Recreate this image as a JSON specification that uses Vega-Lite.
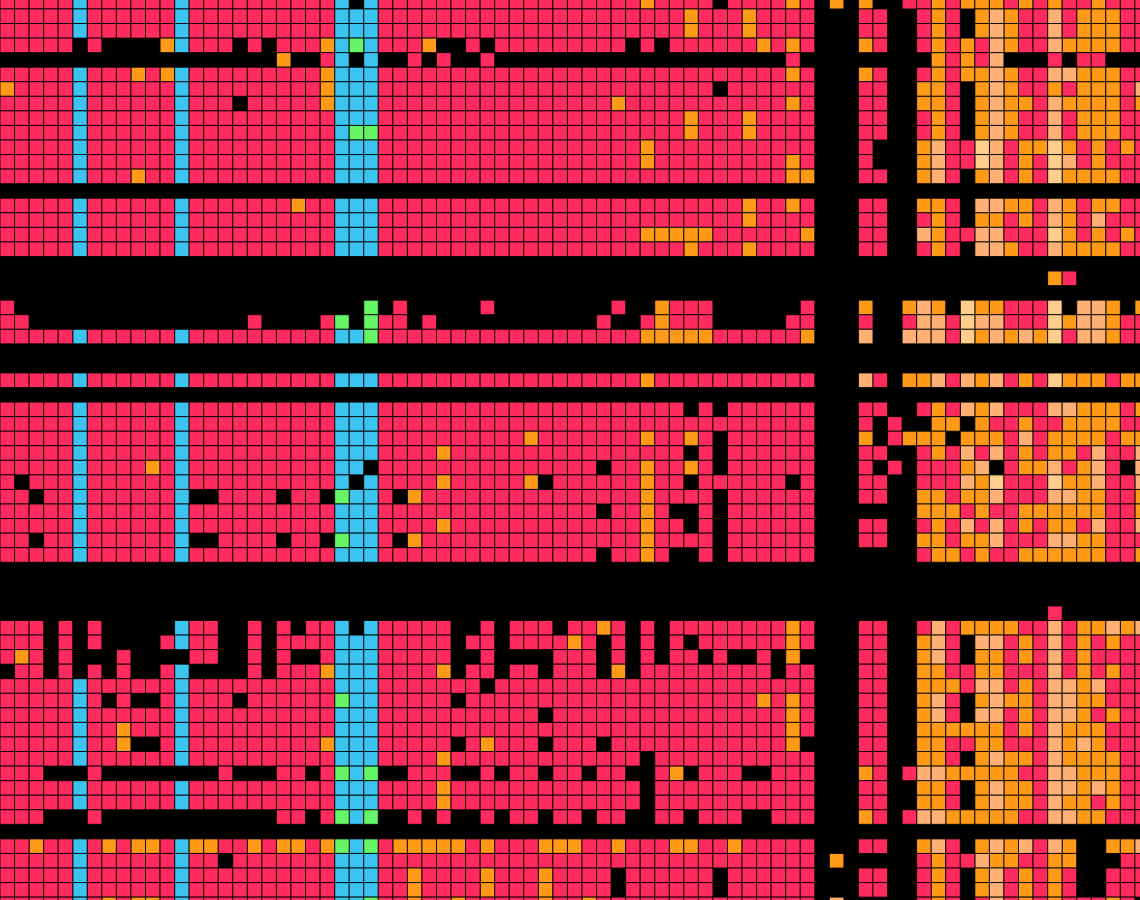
{"$schema":"https://vega.github.io/schema/vega-lite/v6.json","width":1140,"height":900,"padding":0,"autosize":"none","background":"#000000","config":{"view":{"stroke":null}},
"data":{"values":[
{"row":0,"k":"b","col":[5,12,23,25]},{"row":0,"k":"o","col":[44,54,57,59,64,66,67,68,70,72,75]},{"row":0,"k":"r","col":[0,1,2,3,4,6,7,8,9,10,11,13,14,15,16,17,18,19,20,21,22,26,27,28,29,30,31,32,33,34,35,36,37,38,39,40,41,42,43,45,46,47,48,50,51,52,53,55,62,63,65,69,71,73,74,76,77,78]},
{"row":1,"k":"b","col":[5,12,23,24,25]},{"row":1,"k":"o","col":[47,51,64,67,69,74,75,76]},{"row":1,"k":"l","col":[68,72]},{"row":1,"k":"r","col":[0,1,2,3,4,6,7,8,9,10,11,13,14,15,16,17,18,19,20,21,22,26,27,28,29,30,31,32,33,34,35,36,37,38,39,40,41,42,43,44,45,46,48,49,50,52,53,54,55,59,60,63,65,70,71,73,77,78]},
{"row":2,"k":"b","col":[5,12,23,24,25]},{"row":2,"k":"o","col":[47,51,64,67,69,74,75,76]},{"row":2,"k":"l","col":[68,72]},{"row":2,"k":"r","col":[0,1,2,3,4,6,7,8,9,10,11,13,14,15,16,17,18,19,20,21,22,26,27,28,29,30,31,32,33,34,35,36,37,38,39,40,41,42,43,44,45,46,48,49,50,52,53,54,55,59,60,63,65,70,71,73,77,78]},
{"row":3,"k":"b","col":[12,23,25]},{"row":3,"k":"g","col":[24]},{"row":3,"k":"o","col":[11,22,29,52,54,59,64,66,69,73,74,75,76]},{"row":3,"k":"l","col":[68,72]},{"row":3,"k":"r","col":[0,1,2,3,4,6,13,14,15,17,19,20,21,26,27,28,32,34,35,36,37,38,39,40,41,42,44,46,47,48,49,50,51,53,55,60,63,65,67,70,71,77,78]},
{"row":4,"k":"b","col":[23,25]},{"row":4,"k":"o","col":[19,64,66]},{"row":4,"k":"l","col":[68]},{"row":4,"k":"r","col":[22,28,30,33,54,65,67,72,74,75]},
{"row":5,"k":"b","col":[5,12,23,24,25]},{"row":5,"k":"o","col":[9,11,22,54,59,64,66,67,69,74,75,76]},{"row":5,"k":"l","col":[68,72,73]},{"row":5,"k":"r","col":[0,1,2,3,4,6,7,8,10,13,14,15,16,17,18,19,20,21,26,27,28,29,30,31,32,33,34,35,36,37,38,39,40,41,42,43,44,45,46,47,48,49,50,51,52,53,55,60,63,65,70,71,77,78]},
{"row":6,"k":"b","col":[5,12,23,24,25]},{"row":6,"k":"o","col":[0,22,63,64,67,69,72,74,75,76]},{"row":6,"k":"l","col":[68,78]},{"row":6,"k":"r","col":[1,2,3,4,6,7,8,9,10,11,13,14,15,16,17,18,19,20,21,26,27,28,29,30,31,32,33,34,35,36,37,38,39,40,41,42,43,44,45,46,47,48,50,51,52,53,54,55,59,60,65,70,71,73,77]},
{"row":7,"k":"b","col":[5,12,23,24,25]},{"row":7,"k":"o","col":[22,42,54,63,64,67,69,70,73,74,75,76,78]},{"row":7,"k":"l","col":[68,72]},{"row":7,"k":"r","col":[0,1,2,3,4,6,7,8,9,10,11,13,14,15,17,18,19,20,21,26,27,28,29,30,31,32,33,34,35,36,37,38,39,40,41,43,44,45,46,47,48,49,50,51,52,53,55,59,60,65,71,77]},
{"row":8,"k":"b","col":[5,12,23,24,25]},{"row":8,"k":"o","col":[47,51,64,67,69,74,75,76]},{"row":8,"k":"l","col":[68,72]},{"row":8,"k":"r","col":[0,1,2,3,4,6,7,8,9,10,11,13,14,15,16,17,18,19,20,21,22,26,27,28,29,30,31,32,33,34,35,36,37,38,39,40,41,42,43,44,45,46,48,49,50,52,53,54,55,59,60,63,65,70,71,73,77,78]},
{"row":9,"k":"b","col":[5,12,23]},{"row":9,"k":"g","col":[24,25]},{"row":9,"k":"o","col":[47,51,64,67,69,74,75,76]},{"row":9,"k":"l","col":[68,72]},{"row":9,"k":"r","col":[0,1,2,3,4,6,7,8,9,10,11,13,14,15,16,17,18,19,20,21,22,26,27,28,29,30,31,32,33,34,35,36,37,38,39,40,41,42,43,44,45,46,48,49,50,52,53,54,55,59,60,63,65,70,71,73,77,78]},
{"row":10,"k":"b","col":[5,12,23,24,25]},{"row":10,"k":"o","col":[44,63,70,71,73,75,77]},{"row":10,"k":"l","col":[64,68]},{"row":10,"k":"p","col":[67,72]},{"row":10,"k":"r","col":[0,1,2,3,4,6,7,8,9,10,11,13,14,15,16,17,18,19,20,21,22,26,27,28,29,30,31,32,33,34,35,36,37,38,39,40,41,42,43,45,46,47,48,49,50,51,52,53,54,55,59,65,66,69,74,76,78]},
{"row":11,"k":"b","col":[5,12,23,24,25]},{"row":11,"k":"o","col":[44,54,63,70,75]},{"row":11,"k":"l","col":[64,68,73]},{"row":11,"k":"p","col":[67,72]},{"row":11,"k":"r","col":[0,1,2,3,4,6,7,8,9,10,11,13,14,15,16,17,18,19,20,21,22,26,27,28,29,30,31,32,33,34,35,36,37,38,39,40,41,42,43,45,46,47,48,49,50,51,52,53,55,59,65,66,69,71,74,76,77,78]},
{"row":12,"k":"b","col":[5,12,23,24,25]},{"row":12,"k":"o","col":[9,54,55,63,67,70,73,74,75,76]},{"row":12,"k":"l","col":[64,68]},{"row":12,"k":"p","col":[72]},{"row":12,"k":"r","col":[0,1,2,3,4,6,7,8,10,11,13,14,15,16,17,18,19,20,21,22,26,27,28,29,30,31,32,33,34,35,36,37,38,39,40,41,42,43,44,45,46,47,48,49,50,51,52,53,59,60,65,69,71,77,78]},
{"row":14,"k":"b","col":[5,12,23,24,25]},{"row":14,"k":"o","col":[20,51,54,63,64,69,70,73,75,76]},{"row":14,"k":"l","col":[67,68,72]},{"row":14,"k":"r","col":[0,1,2,3,4,6,7,8,9,10,11,13,14,15,16,17,18,19,21,22,26,27,28,29,30,31,32,33,34,35,36,37,38,39,40,41,42,43,44,45,46,47,48,49,50,52,53,55,59,60,65,71,74,77,78]},
{"row":15,"k":"b","col":[5,12,23,24,25]},{"row":15,"k":"o","col":[51,64,67,68,70,73]},{"row":15,"k":"l","col":[72,75]},{"row":15,"k":"r","col":[0,1,2,3,4,6,7,8,9,10,11,13,14,15,16,17,18,19,20,21,22,26,27,28,29,30,31,32,33,34,35,36,37,38,39,40,41,42,43,44,45,46,47,48,49,50,52,53,54,55,59,60,63,65,69,71,74,76,77,78]},
{"row":16,"k":"b","col":[5,12,23,24,25]},{"row":16,"k":"o","col":[44,45,46,47,48,55,64,73,75,77]},{"row":16,"k":"l","col":[63,67,68]},{"row":16,"k":"p","col":[72]},{"row":16,"k":"r","col":[0,1,2,3,4,6,7,8,9,10,11,13,14,15,16,17,18,19,20,21,22,26,27,28,29,30,31,32,33,34,35,36,37,38,39,40,41,42,43,49,50,51,52,53,54,59,60,65,66,69,70,71,74,76,78]},
{"row":17,"k":"b","col":[5,12,23,24,25]},{"row":17,"k":"o","col":[47,51,64,69,73,74,75,76]},{"row":17,"k":"l","col":[67,68,72]},{"row":17,"k":"r","col":[0,1,2,3,4,6,7,8,9,10,11,13,14,15,16,17,18,19,20,21,22,26,27,28,29,30,31,32,33,34,35,36,37,38,39,40,41,42,43,44,45,46,48,49,50,52,53,54,55,59,60,63,65,70,71,77,78]},
{"row":19,"k":"o","col":[72]},{"row":19,"k":"r","col":[73]},
{"row":21,"k":"r","col":[0,27,33,42,46,47,48,55,69,70,71]},{"row":21,"k":"o","col":[45,59,62,64,67,68,76,78]},{"row":21,"k":"l","col":[63,74,75]},{"row":21,"k":"p","col":[66,72]},{"row":21,"k":"g","col":[25]},
{"row":22,"k":"r","col":[0,1,17,22,26,27,29,41,44,46,47,48,54,55,59,62,65,69,70,71,77,78]},{"row":22,"k":"o","col":[45,73,76]},{"row":22,"k":"l","col":[63,64,67,68,74,75]},{"row":22,"k":"p","col":[66,72]},{"row":22,"k":"g","col":[23,25]},
{"row":23,"k":"b","col":[5,12,23,24]},{"row":23,"k":"g","col":[25]},{"row":23,"k":"o","col":[44,45,46,47,48,55,67,69,71,76]},{"row":23,"k":"l","col":[59,62,63,64,68,70,74,75]},{"row":23,"k":"p","col":[66,72]},{"row":23,"k":"r","col":[0,1,2,3,4,6,7,8,9,10,11,13,14,15,16,17,18,19,20,21,22,26,27,28,29,30,31,32,33,34,35,36,37,38,39,40,41,42,43,49,50,51,52,53,54,65,73,77,78]},
{"row":26,"k":"b","col":[5,12,23,24,25]},{"row":26,"k":"o","col":[44,62,63,67,70,73,74,75,77,78]},{"row":26,"k":"l","col":[59,64,66,68]},{"row":26,"k":"p","col":[72]},{"row":26,"k":"r","col":[0,1,2,3,4,6,7,8,9,10,11,13,14,15,16,17,18,19,20,21,22,26,27,28,29,30,31,32,33,34,35,36,37,38,39,40,41,42,43,45,46,47,48,49,50,51,52,53,54,55,60,65,69,71,76]},
{"row":28,"k":"b","col":[5,12,23,24,25]},{"row":28,"k":"o","col":[64,67,74,75,76,78]},{"row":28,"k":"l","col":[66,68,72,73]},{"row":28,"k":"r","col":[0,1,2,3,4,6,7,8,9,10,11,13,14,15,16,17,18,19,20,21,22,26,27,28,29,30,31,32,33,34,35,36,37,38,39,40,41,42,43,44,45,46,48,50,51,52,53,54,55,59,60,63,65,69,70,71,77]},
{"row":29,"k":"b","col":[5,12,23,24,25]},{"row":29,"k":"o","col":[64,65,67,70,73,74,75,76]},{"row":29,"k":"r","col":[0,1,2,3,4,6,7,8,9,10,11,13,14,15,16,17,18,19,20,21,22,26,27,28,29,30,31,32,33,34,35,36,37,38,39,40,41,42,43,44,45,46,47,48,49,50,51,52,53,54,55,59,61,68,69,71,72,77,78]},
{"row":30,"k":"b","col":[5,12,23,24,25]},{"row":30,"k":"o","col":[36,44,47,59,62,63,64,66,67,68,72,73,74,75,77,78]},{"row":30,"k":"l","col":[70]},{"row":30,"k":"r","col":[0,1,2,3,4,6,7,8,9,10,11,13,14,15,16,17,18,19,20,21,22,26,27,28,29,30,31,32,33,34,35,37,38,39,40,41,42,43,45,46,48,50,51,52,53,54,55,61,69,71,76]},
{"row":31,"k":"b","col":[5,12,23,24,25]},{"row":31,"k":"o","col":[30,64,70,72,73]},{"row":31,"k":"l","col":[66,68,75,78]},{"row":31,"k":"r","col":[0,1,2,3,4,6,7,8,9,10,11,13,14,15,16,17,18,19,20,21,22,26,27,28,29,31,32,33,34,35,36,37,38,39,40,41,42,43,44,45,46,48,50,51,52,53,54,55,59,60,63,65,67,69,71,74,76,77]},
{"row":32,"k":"b","col":[5,12,23,24]},{"row":32,"k":"o","col":[10,44,47,66,70,71,74]},{"row":32,"k":"l","col":[67,72,75,78]},{"row":32,"k":"r","col":[0,1,2,3,4,6,7,8,9,11,13,14,15,16,17,18,19,20,21,22,26,27,28,29,30,31,32,33,34,35,36,37,38,39,40,42,43,45,46,48,50,51,52,53,54,55,59,61,63,64,65,69,73,76]},
{"row":33,"k":"b","col":[5,12,23,25]},{"row":33,"k":"o","col":[30,36,44,67,73,74]},{"row":33,"k":"l","col":[66,75,78]},{"row":33,"k":"p","col":[68,72]},{"row":33,"k":"r","col":[0,2,3,4,6,7,8,9,10,11,13,14,15,16,17,18,19,20,21,22,26,27,28,29,31,32,33,34,35,38,39,40,41,42,43,45,46,48,49,50,51,52,53,55,59,60,63,64,65,69,70,71,76,77]},
{"row":34,"k":"b","col":[5,12,24,25]},{"row":34,"k":"g","col":[23]},{"row":34,"k":"o","col":[28,44,63,64,66,67,74,75,78]},{"row":34,"k":"l","col":[68,72,73]},{"row":34,"k":"r","col":[0,1,3,4,6,7,8,9,10,11,15,16,17,18,20,21,26,29,30,31,32,33,34,35,36,37,38,39,40,41,42,43,45,46,47,48,50,51,52,53,54,55,59,60,65,69,70,71,76,77]},
{"row":35,"k":"b","col":[5,12,23,24,25]},{"row":35,"k":"o","col":[44,63,64,65,67,70,71,72,73,74,75,78]},{"row":35,"k":"r","col":[0,1,2,3,4,6,7,8,9,10,11,13,14,15,16,17,18,19,20,21,22,26,27,28,29,30,31,32,33,34,35,36,37,38,39,40,42,43,45,48,50,51,52,53,54,55,66,68,69,76,77]},
{"row":36,"k":"b","col":[5,12,23,24,25]},{"row":36,"k":"o","col":[30,44,64,70,72,73]},{"row":36,"k":"l","col":[66,68,75,78]},{"row":36,"k":"r","col":[0,1,2,3,4,6,7,8,9,10,11,13,14,15,16,17,18,19,20,21,22,26,27,28,29,31,32,33,34,35,36,37,38,39,40,41,42,43,45,46,48,50,51,52,53,54,55,59,60,63,65,67,69,71,74,76,77]},
{"row":37,"k":"b","col":[5,12,24,25]},{"row":37,"k":"g","col":[23]},{"row":37,"k":"o","col":[28,44,63,64,66,67,74,75]},{"row":37,"k":"l","col":[68,72,73]},{"row":37,"k":"r","col":[0,1,3,4,6,7,8,9,10,11,15,16,17,18,20,21,26,29,30,31,32,33,34,35,36,37,38,39,40,41,42,43,45,46,47,48,50,51,52,53,54,55,59,60,65,69,70,71,76,77,78]},
{"row":38,"k":"b","col":[5,12,23,24,25]},{"row":38,"k":"o","col":[44,64,65,67,70,71,72,73,74,75,78]},{"row":38,"k":"r","col":[0,1,2,3,4,6,7,8,9,10,11,13,14,15,16,17,18,19,20,21,22,26,27,28,29,30,31,32,33,34,35,36,37,38,39,40,42,43,45,48,50,51,52,53,54,55,63,66,68,69,76,77]},
{"row":42,"k":"r","col":[72]},
{"row":43,"k":"b","col":[12,23,25]},{"row":43,"k":"o","col":[41,54,66,67,68,69,74,75,77]},{"row":43,"k":"l","col":[64,72,76,78]},{"row":43,"k":"r","col":[0,1,2,4,6,13,14,17,19,21,22,26,27,28,29,30,33,35,36,37,39,40,42,44,46,47,48,49,50,51,52,53,55,59,60,63,65,70,71,73]},
{"row":44,"k":"b","col":[12,23,24,25]},{"row":44,"k":"o","col":[39,54,63,70,74,76]},{"row":44,"k":"l","col":[64,67,68,72]},{"row":44,"k":"r","col":[0,1,2,4,6,11,13,14,17,19,20,21,22,26,27,28,29,30,32,33,35,36,37,38,40,42,44,46,48,49,50,51,52,53,55,59,60,65,69,71,73,75,77,78]},
{"row":45,"k":"b","col":[23,24,25]},{"row":45,"k":"o","col":[1,54,63,67,68,70,74]},{"row":45,"k":"l","col":[64,72]},{"row":45,"k":"r","col":[0,2,4,8,13,14,17,19,22,26,27,28,29,30,33,38,39,40,42,44,46,47,49,52,59,60,65,69,71,73,75,76,77,78]},
{"row":46,"k":"b","col":[12,23,24,25]},{"row":46,"k":"o","col":[22,30,42,63,64,67,68,74,76]},{"row":46,"k":"l","col":[72]},{"row":46,"k":"r","col":[1,2,4,6,8,11,17,19,20,21,26,27,28,29,32,33,35,36,38,39,40,44,45,46,47,48,49,50,51,52,54,55,59,60,65,66,69,70,71,73,75,77,78]},
{"row":47,"k":"b","col":[5,12,23,24,25]},{"row":47,"k":"o","col":[63,64,65,70,74]},{"row":47,"k":"l","col":[67,68,72,73,75]},{"row":47,"k":"r","col":[0,1,2,3,4,6,7,8,9,10,11,13,14,15,16,17,18,19,20,21,22,26,27,28,29,30,31,32,34,35,36,37,38,39,40,41,42,43,44,45,46,47,48,49,50,51,52,53,54,55,59,60,66,69,71,76,77,78]},
{"row":48,"k":"b","col":[5,12,24,25]},{"row":48,"k":"g","col":[23]},{"row":48,"k":"o","col":[52,54,63,67,69,70,74,75]},{"row":48,"k":"l","col":[64,68,72,73]},{"row":48,"k":"r","col":[0,1,2,3,4,6,8,11,13,14,15,17,18,19,20,21,22,26,27,28,29,30,32,33,34,35,36,37,38,39,40,41,42,43,44,45,46,47,48,49,50,51,53,55,59,60,65,71,76,77,78]},
{"row":49,"k":"b","col":[5,12,23,24,25]},{"row":49,"k":"o","col":[54,63,70,74,76]},{"row":49,"k":"l","col":[64,67,68,72,73]},{"row":49,"k":"r","col":[0,1,2,3,4,6,7,8,9,10,11,13,14,15,16,17,18,19,20,21,22,26,27,28,29,30,31,32,33,34,35,36,38,39,40,41,42,43,44,45,46,47,48,49,50,51,52,53,55,59,60,65,69,71,75,77,78]},
{"row":50,"k":"b","col":[5,12,23,24,25]},{"row":50,"k":"o","col":[8,54,63,64,65,66,67,68,70,73,74,75]},{"row":50,"k":"l","col":[72]},{"row":50,"k":"r","col":[0,1,2,3,4,6,7,9,10,11,13,14,15,16,17,18,19,20,21,22,26,27,28,29,30,31,32,33,34,35,36,37,38,39,40,41,42,43,44,45,46,47,48,49,50,51,52,53,55,59,60,69,71,76,77,78]},
{"row":51,"k":"b","col":[5,12,23,24,25]},{"row":51,"k":"o","col":[8,22,33,54,63,64,67,68,73,75]},{"row":51,"k":"l","col":[72,74]},{"row":51,"k":"r","col":[0,1,2,3,4,6,7,11,13,14,15,16,17,18,19,20,21,26,27,28,29,30,32,34,35,36,38,39,40,42,43,44,45,46,47,48,49,50,51,52,53,59,60,65,66,69,70,71,76,77,78]},
{"row":52,"k":"b","col":[5,12,23,24,25]},{"row":52,"k":"o","col":[30,63,64,67,69,70,73,74,75,76]},{"row":52,"k":"l","col":[68,72]},{"row":52,"k":"r","col":[0,1,2,3,4,6,7,8,9,10,11,13,14,15,16,17,18,19,20,21,22,26,27,28,29,31,32,33,34,35,36,37,38,39,40,41,42,43,45,46,47,48,49,50,51,52,53,54,55,59,60,65,71,77,78]},
{"row":53,"k":"b","col":[24]},{"row":53,"k":"g","col":[23,25]},{"row":53,"k":"o","col":[46,59,65,66,67,68,69,74,75,76]},{"row":53,"k":"l","col":[63,64,72,73]},{"row":53,"k":"r","col":[0,1,2,6,15,19,20,22,28,29,30,33,35,36,38,39,41,42,45,48,49,50,53,54,55,60,62,70,71,77,78]},
{"row":54,"k":"b","col":[5,12,23,24,25]},{"row":54,"k":"o","col":[30,63,64,67,69,70,74,76]},{"row":54,"k":"l","col":[68,72,73,75]},{"row":54,"k":"r","col":[0,1,2,3,4,6,7,8,9,10,11,13,14,15,16,17,18,19,20,21,22,26,27,28,29,31,32,33,34,35,36,37,38,39,40,41,42,43,45,46,47,48,49,50,51,52,53,54,55,59,60,65,71,77,78]},
{"row":55,"k":"b","col":[5,12,23,24,25]},{"row":55,"k":"o","col":[30,63,64,67,69,70,73,74,76]},{"row":55,"k":"l","col":[68,72]},{"row":55,"k":"r","col":[0,1,2,3,4,6,7,8,9,10,11,13,14,15,16,17,18,19,20,21,22,26,27,28,29,31,32,33,34,35,36,37,38,39,40,41,42,43,45,46,47,48,49,50,51,52,53,54,55,59,60,65,71,75,77,78]},
{"row":56,"k":"b","col":[24]},{"row":56,"k":"g","col":[23,25]},{"row":56,"k":"o","col":[59,65,66,67,68,69,74,75]},{"row":56,"k":"l","col":[63,64,72,73]},{"row":56,"k":"r","col":[0,1,2,6,19,20,22,28,30,33,35,36,38,39,41,42,45,46,48,49,50,53,54,55,60,62,70,71,76,77,78]},
{"row":58,"k":"b","col":[5,12,24]},{"row":58,"k":"g","col":[23,25]},{"row":58,"k":"o","col":[2,7,9,10,13,14,17,19,20,22,27,28,29,30,31,33,37,38,39,42,46,47,50,63,67,69,73,76,77]},{"row":58,"k":"l","col":[64,68,70,72,78]},{"row":58,"k":"r","col":[0,1,3,4,6,8,11,15,16,18,21,26,32,34,35,36,40,41,43,44,45,48,49,51,52,53,54,55,59,60,65,71]},
{"row":59,"k":"b","col":[5,12,23,24,25]},{"row":59,"k":"o","col":[57,64,68,69,72,73]},{"row":59,"k":"l","col":[67]},{"row":59,"k":"r","col":[0,1,2,3,4,6,7,8,9,10,11,13,14,16,17,18,19,20,21,22,26,27,28,29,30,31,32,33,34,35,36,37,38,39,40,41,42,43,44,45,46,47,48,49,50,51,52,53,54,55,63,65,66,70,71,77,78]},
{"row":60,"k":"b","col":[5,12,23,24,25]},{"row":60,"k":"o","col":[28,33,37,64,67,70,72]},{"row":60,"k":"l","col":[68]},{"row":60,"k":"r","col":[0,1,2,3,4,6,7,8,9,10,11,13,14,15,16,17,18,19,20,21,22,26,27,29,30,31,32,34,35,36,38,39,40,41,43,44,45,46,47,48,50,51,52,53,54,55,59,60,63,65,69,71,73,76,77,78]},
{"row":61,"k":"b","col":[5,12,23,24,25]},{"row":61,"k":"o","col":[28,33,37,64,67,70,72]},{"row":61,"k":"l","col":[68]},{"row":61,"k":"r","col":[0,1,2,3,4,6,7,8,9,10,11,13,14,15,16,17,18,19,20,21,22,26,27,29,30,31,32,34,35,36,38,39,40,41,43,44,45,46,47,48,50,51,52,53,54,55,59,60,63,65,69,71,73,76,77,78]},
{"row":62,"k":"b","col":[5,12,23,24]},{"row":62,"k":"g","col":[25]},{"row":62,"k":"o","col":[7,9,10,28,31,37,40,64,70,72,76]},{"row":62,"k":"l","col":[57,68]},{"row":62,"k":"r","col":[0,1,2,3,4,6,8,11,13,14,15,16,17,18,19,20,21,22,26,27,29,30,32,33,34,35,36,38,39,41,42,43,44,45,46,47,48,49,50,51,52,53,54,55,63,65,67,69,71,73,74,75,77]}
]},
"transform":[{"flatten":["col"]}],
"mark":{"type":"rect","stroke":"#000000","strokeWidth":1,"strokeOpacity":0.85},
"encoding":{
"x":{"field":"col","type":"ordinal","axis":null,"scale":{"domain":[0,1,2,3,4,5,6,7,8,9,10,11,12,13,14,15,16,17,18,19,20,21,22,23,24,25,26,27,28,29,30,31,32,33,34,35,36,37,38,39,40,41,42,43,44,45,46,47,48,49,50,51,52,53,54,55,56,57,58,59,60,61,62,63,64,65,66,67,68,69,70,71,72,73,74,75,76,77,78],"range":[0,1149.45],"paddingInner":0,"paddingOuter":0}},
"y":{"field":"row","type":"ordinal","axis":null,"scale":{"domain":[0,1,2,3,4,5,6,7,8,9,10,11,12,13,14,15,16,17,18,19,20,21,22,23,24,25,26,27,28,29,30,31,32,33,34,35,36,37,38,39,40,41,42,43,44,45,46,47,48,49,50,51,52,53,54,55,56,57,58,59,60,61,62],"range":[-5.6,911.7],"paddingInner":0,"paddingOuter":0}},
"color":{"field":"k","type":"nominal","legend":null,"scale":{"domain":["r","b","g","o","l","p"],"range":["#ff2a5e","#3cc4f0","#66f566","#ff9a18","#ffb074","#ffce8c"]}}
}}
